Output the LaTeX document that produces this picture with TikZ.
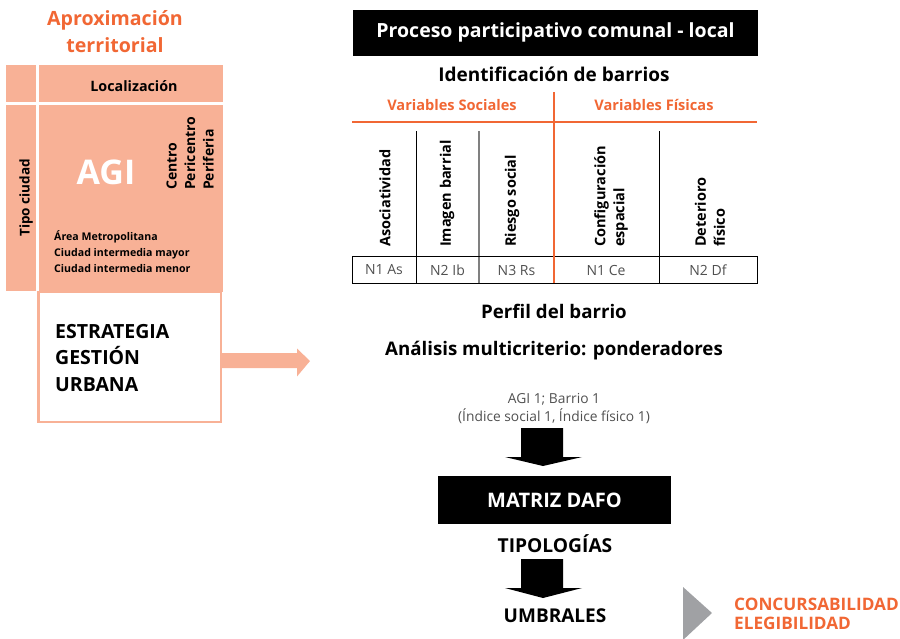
\documentclass[tikz,border=0pt]{standalone}
\usepackage{fontspec}
\setmainfont{Open Sans}
\definecolor{salmon}{RGB}{248,177,150}
\definecolor{orng}{RGB}{241,103,52}
\definecolor{txtgray}{RGB}{80,80,80}
\definecolor{trigray}{RGB}{160,161,164}
\begin{document}
\begin{tikzpicture}[x=1pt,y=-1pt,
  orangetitle/.style={text=orng,font=\fontsize{19.6}{27}\selectfont\bfseries,align=center},
  colhead/.style={rotate=90,anchor=west,font=\fontsize{14.5}{19}\selectfont\bfseries,align=left,inner sep=0pt},
  cellnum/.style={text=txtgray,font=\fontsize{14}{16}\selectfont},
  blackbox/.style={fill=black,text=white,inner sep=0pt},
  heading/.style={font=\fontsize{18.7}{22}\selectfont\bfseries},
]
\useasboundingbox (0,0) rectangle (900,638);

% ---------- left block ----------
\node[orangetitle] (title) at (115,31.5) {Aproximación\\territorial};
\fill[salmon] (6,65) rectangle (36,102);
\fill[salmon] (38.5,65) rectangle (223,102);
\fill[salmon] (6,105) rectangle (36,291);
\fill[salmon] (38.5,105) rectangle (223,292);
\node[font=\fontsize{14.3}{16}\selectfont\bfseries] (loc) at (134,86) {Localización};
\node[rotate=90,font=\fontsize{13.5}{15}\selectfont\bfseries] (tipo) at (26,198) {Tipo ciudad};
\node[text=white,font=\fontsize{34}{40}\selectfont\bfseries] (agi) at (106,172) {AGI};
\node[rotate=90,anchor=west,align=left,inner sep=0pt,font=\fontsize{14}{18.5}\selectfont\bfseries] (cpp) at (190,190) {Centro\\Pericentro\\Periferia};
\node[anchor=west,align=left,inner sep=0pt,font=\fontsize{10.6}{16}\selectfont\bfseries] (ciud) at (54,252) {Área Metropolitana\\Ciudad intermedia mayor\\Ciudad intermedia menor};
\draw[salmon,line width=2.5pt] (38.5,292) rectangle (221,422);
\node[anchor=west,align=left,inner sep=0pt,font=\fontsize{19.5}{26.5}\selectfont\bfseries] (estr) at (55,358) {ESTRATEGIA\\GESTIÓN\\URBANA};
\fill[salmon] (222,353) -- (297,353) -- (297,348.5) -- (310,361) -- (297,376.5) -- (297,368) -- (222,368) -- cycle;

% ---------- right block ----------
\node[blackbox,minimum width=405pt,minimum height=46pt,font=\fontsize{19.5}{24}\selectfont\bfseries] (proc) at (555.5,32.5) {Proceso participativo comunal - local};
\node[font=\fontsize{19}{22}\selectfont\bfseries] (ident) at (554,74) {Identificación de barrios};
\node[text=orng,font=\fontsize{14.6}{17}\selectfont\bfseries] (vs) at (452,105) {Variables Sociales};
\node[text=orng,font=\fontsize{14.6}{17}\selectfont\bfseries] (vf) at (654,105) {Variables Físicas};
\draw[orng,line width=2pt] (352,121.5) -- (757,121.5);
\draw[black,line width=1pt] (416,131) -- (416,283);
\draw[gray,line width=1.2pt] (479,131) -- (479,283);
\draw[black,line width=1pt] (659,131) -- (659,283);
\draw[black,line width=0.8pt] (352.5,256) rectangle (757,283);
\draw[orng,line width=2pt] (554,92) -- (554,283);

\node[colhead] (h1) at (385,247) {Asociatividad};
\node[colhead] (h2) at (447,247) {Imagen barrial};
\node[colhead] (h3) at (512,247) {Riesgo social};
\node[colhead] (h4) at (611,247) {Configuración\\espacial};
\node[colhead] (h5) at (710,247) {Deterioro\\físico};

\node[cellnum] (n1) at (384,270) {N1 As};
\node[cellnum] (n2) at (447.5,270) {N2 Ib};
\node[cellnum] (n3) at (516.5,270) {N3 Rs};
\node[cellnum] (n4) at (606,270) {N1 Ce};
\node[cellnum] (n5) at (708,270) {N2 Df};

\node[heading] (perfil) at (554,311) {Perfil del barrio};
\node[heading] (anal) at (554,351) {Análisis multicriterio: ponderadores};
\node[text=txtgray,align=center,font=\fontsize{13.8}{18}\selectfont] (agib) at (554,409) {AGI 1; Barrio 1\\(Índice social 1, Índice físico 1)};

\fill[black] (521,428) -- (563,428) -- (563,457) -- (582,457) -- (543,466) -- (505,457) -- (521,457) -- cycle;
\node[blackbox,minimum width=233pt,minimum height=48pt,font=\fontsize{20}{22}\selectfont\bfseries] (dafo) at (554.5,500) {MATRIZ DAFO};
\node[font=\fontsize{19.2}{22}\selectfont\bfseries] (tipol) at (555,544) {TIPOLOGÍAS};
\fill[black] (521,559) -- (563,559) -- (563,588) -- (582,588) -- (543,598) -- (505,588) -- (521,588) -- cycle;
\node[font=\fontsize{19}{22}\selectfont\bfseries] (umb) at (555,616) {UMBRALES};

\fill[trigray] (683,587) -- (712,613) -- (683,640) -- cycle;
\node[anchor=west,align=left,inner sep=0pt,text=orng,font=\fontsize{17.2}{19}\selectfont\bfseries] (conc) at (734,613.5) {CONCURSABILIDAD\\ELEGIBILIDAD};
\end{tikzpicture}
\end{document}
